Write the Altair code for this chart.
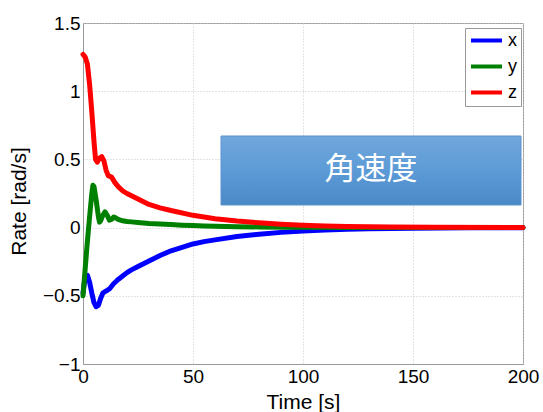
import altair as alt
import pandas as pd

# ---- data ----
t_x = [0, 1, 2, 3, 4, 5, 6, 7, 8, 9, 10, 11, 12, 13, 14, 15, 16, 18, 20, 22, 25, 30, 35, 40, 45, 50,
       55, 60, 70, 80, 90, 100, 110, 120, 130, 140, 150, 175, 200]
v_x = [-0.48, -0.36, -0.35, -0.40, -0.48, -0.55, -0.58, -0.57, -0.52, -0.48, -0.47, -0.46, -0.45,
       -0.43, -0.41, -0.395, -0.38, -0.355, -0.33, -0.31, -0.285, -0.245, -0.205, -0.17, -0.145,
       -0.12, -0.103, -0.09, -0.065, -0.048, -0.035, -0.025, -0.018, -0.013, -0.009, -0.006,
       -0.004, -0.002, -0.001]

t_y = [0, 1, 2, 3, 4, 4.5, 5, 6, 7, 7.5, 8, 9, 10, 11, 12, 13, 14, 15, 16, 18, 20, 22, 25, 30, 35,
       40, 45, 50, 55, 60, 70, 80, 90, 100, 120, 150, 200]
v_y = [-0.5, -0.3, -0.1, 0.08, 0.25, 0.31, 0.30, 0.2, 0.08, 0.04, 0.05, 0.09, 0.115, 0.09, 0.055,
       0.06, 0.078, 0.07, 0.06, 0.05, 0.045, 0.042, 0.038, 0.03, 0.026, 0.022, 0.018, 0.015, 0.012,
       0.01, 0.007, 0.005, 0.003, 0.002, 0.001, 0.0, 0.0]

t_z = [0, 1, 2, 3, 4, 5, 5.7, 6.5, 7.5, 8.5, 9.5, 10.5, 11.5, 13, 14.5, 16, 18, 20, 25, 30, 35, 40,
       50, 60, 70, 80, 90, 100, 110, 120, 140, 160, 200]
v_z = [1.27, 1.25, 1.20, 1.05, 0.85, 0.63, 0.50, 0.48, 0.51, 0.52, 0.49, 0.42, 0.38, 0.37, 0.33,
       0.30, 0.27, 0.25, 0.21, 0.17, 0.145, 0.125, 0.09, 0.065, 0.048, 0.035, 0.025, 0.018, 0.012,
       0.008, 0.004, 0.002, 0.0]

series_names = ["x", "y", "z"]
series_colors = ["#0000FF", "#008000", "#FF0000"]
x_ticks = [0, 50, 100, 150, 200]
y_ticks = [-1, -0.5, 0, 0.5, 1, 1.5]
annotation = ["角速度"]

rows = []
for name, ts, vs in zip(series_names, [t_x, t_y, t_z], [v_x, v_y, v_z]):
    for i, (t, v) in enumerate(zip(ts, vs)):
        rows.append({"Time": t, "Rate": v, "axis": name, "order": i})
df = pd.DataFrame(rows)

grid_color = "#c8c8c8"

lines = alt.Chart(df).mark_line(strokeWidth=5, strokeJoin="round", strokeCap="round").encode(
    x=alt.X("Time:Q", scale=alt.Scale(domain=[0, 200], nice=False),
            axis=alt.Axis(values=x_ticks, format="d", title="Time [s]",
                          titleY=38, titleBaseline="middle")),
    y=alt.Y("Rate:Q", scale=alt.Scale(domain=[-1, 1.5], nice=False),
            axis=alt.Axis(values=y_ticks, format="~g", title="Rate [rad/s]",
                          titleX=-64, titleY=178, titleAngle=270,
                          titleAlign="center", titleBaseline="middle")),
    color=alt.Color("axis:N", scale=alt.Scale(domain=series_names, range=series_colors),
                    legend=alt.Legend(title=None, orient="none", legendX=382, legendY=5,
                                      symbolType="stroke", symbolSize=961,
                                      symbolStrokeWidth=4, labelFontSize=18,
                                      labelFont="Liberation Sans", labelColor="#000",
                                      padding=4, rowPadding=7, labelOffset=4, clipHeight=17,
                                      strokeColor="#999", fillColor="white")),
    detail="axis:N",
    order="order:Q",
)

gradient = alt.Gradient(
    gradient="linear",
    stops=[alt.GradientStop(color="#72A7DC", offset=0),
           alt.GradientStop(color="#5C9BD6", offset=0.5),
           alt.GradientStop(color="#4A88C7", offset=1)],
    x1=0, x2=0, y1=0, y2=1,
)

ann_df = pd.DataFrame({"label": annotation})
box = alt.Chart(ann_df).mark_rect(fill=gradient, stroke="#5B93CF", strokeWidth=1).encode(
    x=alt.value(138), x2=alt.value(438), y=alt.value(113), y2=alt.value(182)
)
txt = alt.Chart(ann_df).mark_text(font="Noto Sans CJK JP", fontSize=31, color="white",
                                  align="center", baseline="middle").encode(
    x=alt.value(288), y=alt.value(147), text="label:N"
)

chart = alt.layer(lines, box, txt).properties(
    width=440, height=341,
    autosize=alt.AutoSizeParams(type="none"),
    padding={"left": 83, "top": 23, "right": 20, "bottom": 48},
).configure_view(stroke="#999", strokeWidth=1).configure_axis(
    grid=True, gridColor=grid_color, gridDash=[1, 2], gridWidth=1,
    domain=True, domainColor="#999", ticks=False,
    labelFont="Liberation Sans", labelFontSize=19, labelColor="#000", labelPadding=3,
    labelFlush=False,
    titleFont="Liberation Sans", titleFontSize=21, titleColor="#000", titleFontWeight="normal",
).configure_axisY(labelPadding=3)

chart.save("out.html", embed_options={"renderer": "svg", "actions": False})
